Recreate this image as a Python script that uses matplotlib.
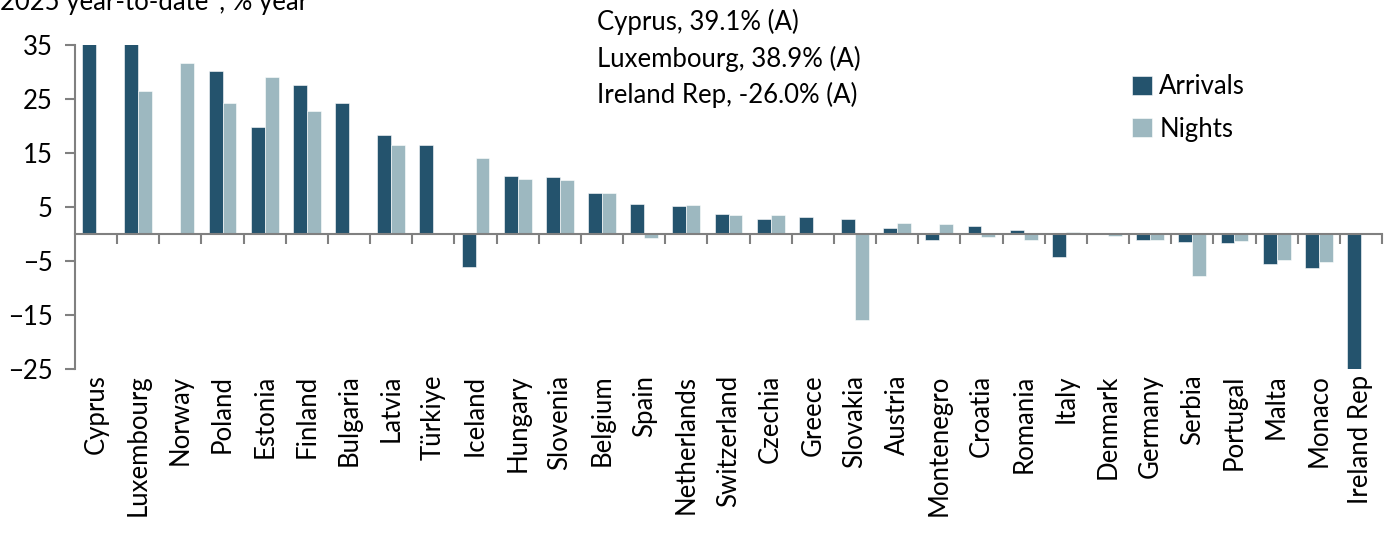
import numpy as np
import matplotlib.pyplot as plt

countries = ['Cyprus', 'Luxembourg', 'Norway', 'Poland', 'Estonia', 'Finland', 'Bulgaria',
             'Latvia', 'Türkiye', 'Iceland', 'Hungary', 'Slovenia', 'Belgium', 'Spain',
             'Netherlands', 'Switzerland', 'Czechia', 'Greece', 'Slovakia', 'Austria',
             'Montenegro', 'Croatia', 'Romania', 'Italy', 'Denmark', 'Germany', 'Serbia',
             'Portugal', 'Malta', 'Monaco', 'Ireland Rep']
arrivals = [39.1, 38.9, np.nan, 30.2, 19.8, 27.6, 24.3, 18.3, 16.5, -6.1, 10.7, 10.6, 7.6, 5.5,
            5.2, 3.7, 2.8, 3.2, 2.8, 1.1, -1.1, 1.5, 0.8, -4.3, np.nan, -1.1, -1.4, -1.7,
            -5.6, -6.3, -26.0]
nights = [np.nan, 26.5, 31.7, 24.3, 29.1, 22.8, np.nan, 16.5, np.nan, 14.1, 10.2, 10.0, 7.6, -0.7,
          5.4, 3.5, 3.5, np.nan, -15.9, 2.0, 1.8, -0.5, -1.1, 0.3, -0.3, -1.1, -7.8, -1.3,
          -4.8, -5.2, np.nan]
yticks = [35, 25, 15, 5, -5, -15, -25]
notes = ['Cyprus, 39.1% (A)', 'Luxembourg, 38.9% (A)', 'Ireland Rep, -26.0% (A)']

c_arr = '#24536d'
c_ngt = '#9db8c0'
grey = '#808080'
fs = 18.5

plt.rcParams['font.family'] = ['Lato', 'DejaVu Sans']

fig = plt.figure(figsize=(13.94, 5.33), dpi=100)
ax = fig.add_axes([75/1394, 1-369/533, (1382-75)/1394, (369-45)/533])

x = np.arange(len(countries))
w = 0.33
ax.bar(x - w/2, arrivals, w, color=c_arr, edgecolor='white', linewidth=0.4, label='Arrivals')
ax.bar(x + w/2, nights, w, color=c_ngt, edgecolor='white', linewidth=0.4, label='Nights')

ax.set_xlim(-0.5, len(countries) - 0.5)
ax.set_ylim(-25, 35)
ax.set_yticks(yticks)
ax.tick_params(axis='y', direction='out', length=7, width=1.5, color=grey,
               labelsize=fs, pad=9)

for s in ['top', 'right']:
    ax.spines[s].set_visible(False)
ax.spines['left'].set_color(grey)
ax.spines['left'].set_linewidth(1.5)
ax.spines['bottom'].set_position(('data', 0))
ax.spines['bottom'].set_color(grey)
ax.spines['bottom'].set_linewidth(1.5)

# boundary ticks on the zero line
ax.set_xticks(np.arange(0.5, len(countries), 1.0))
ax.tick_params(axis='x', direction='out', length=7, width=1.5, color=grey, labelbottom=False)

# category labels along the bottom
sec = ax.secondary_xaxis(0)
sec.set_xticks(x)
sec.set_xticklabels(countries, rotation=90, va='top', ha='center')
sec.tick_params(length=0, labelsize=fs, pad=4)
sec.spines['bottom'].set_visible(False)

fig.text(0, 1 - 10/533, '2025 year-to-date*, % year', fontsize=fs, va='baseline', ha='left')

for i, t in enumerate(notes):
    fig.text(597/1394, 1 - (22 + 36.5*i)/533, t, fontsize=fs, va='center', ha='left')

ax.legend(loc='upper left', bbox_to_anchor=((1122 - 75)/1307, (369 - 64)/324), frameon=False,
          fontsize=fs, handlelength=0.75, handleheight=0.75, handletextpad=0.3,
          labelspacing=0.68, borderaxespad=0)

fig.savefig('out.png', dpi=100)
